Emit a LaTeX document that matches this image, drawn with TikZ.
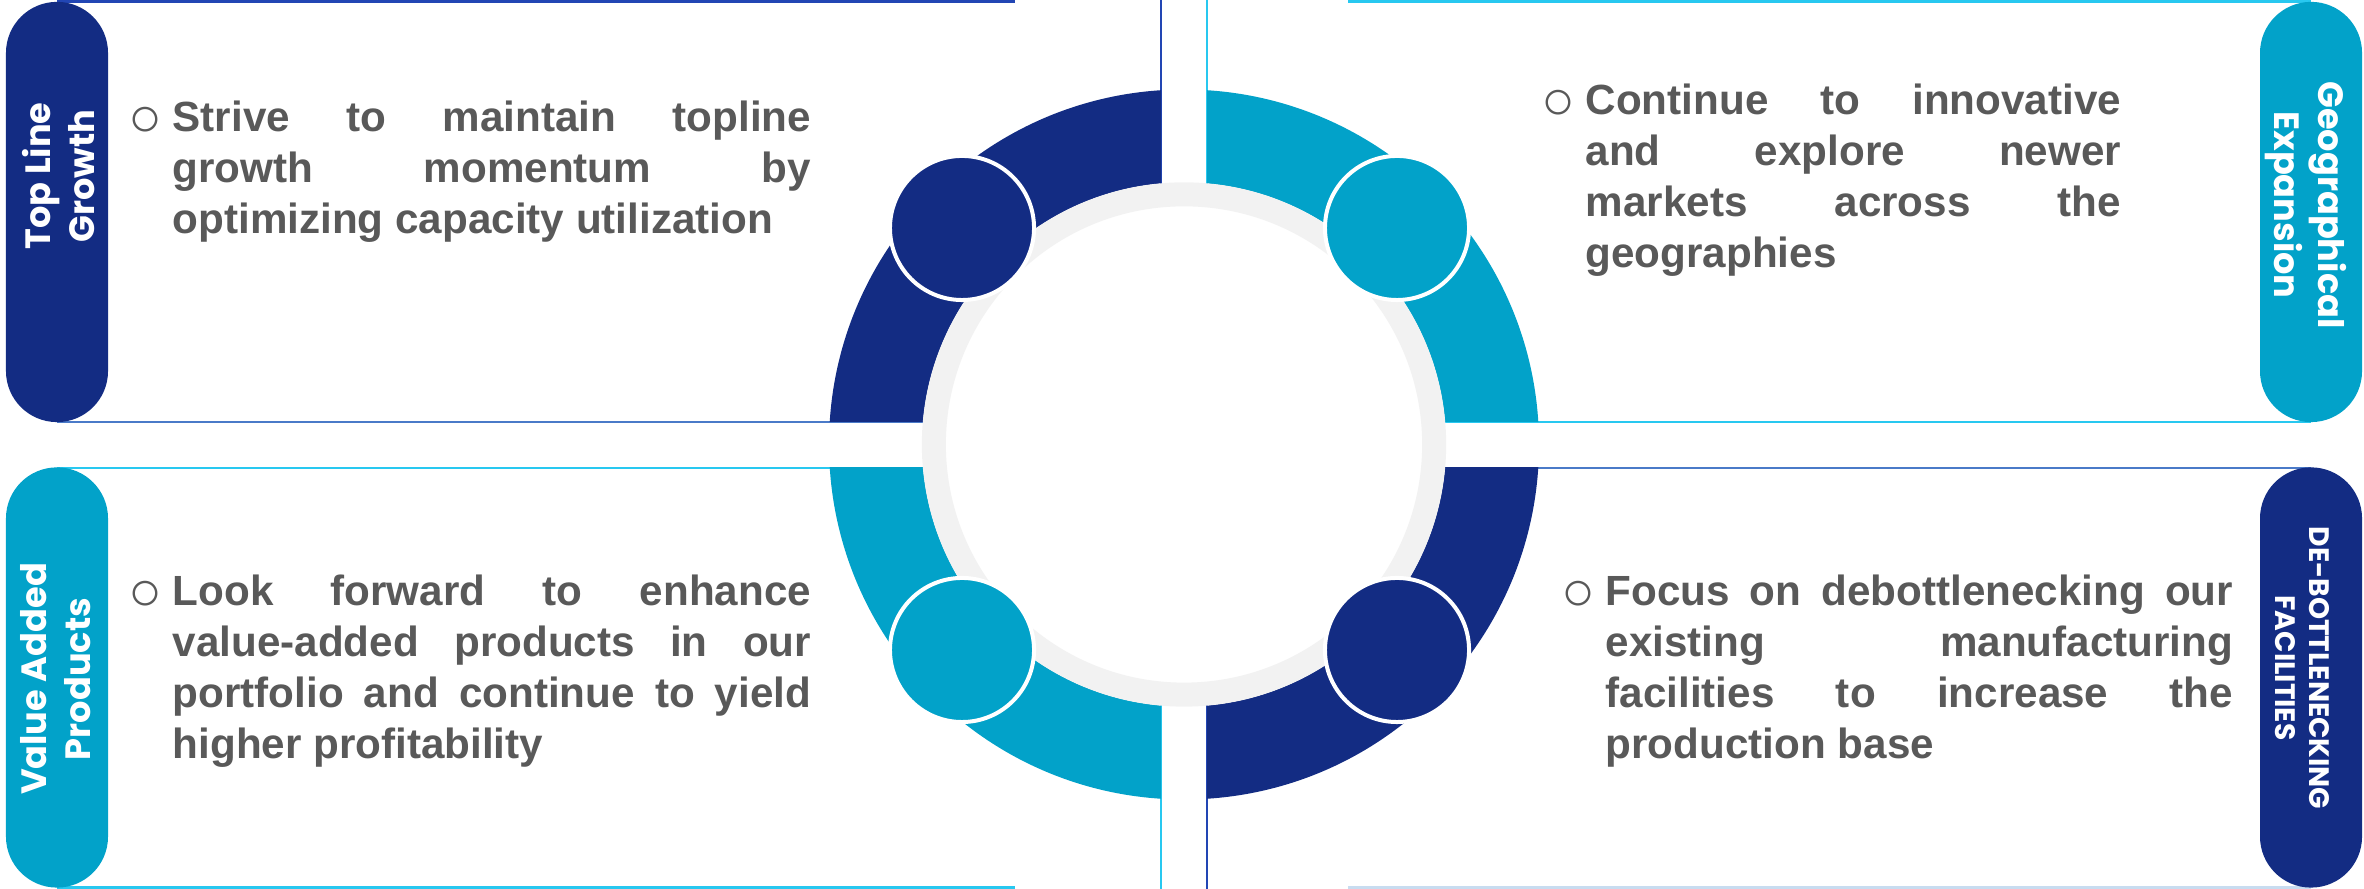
\documentclass[tikz,border=0pt]{standalone}
\usepackage{fontspec}
\setmainfont{Liberation Sans}
\newfontfamily\tabfont{Poppins}
\definecolor{ringnavy}{RGB}{19,44,131}
\definecolor{ringsky}{RGB}{2,162,201}
\definecolor{ringgrey}{RGB}{242,242,242}
\definecolor{bodygrey}{RGB}{89,89,89}
\definecolor{edgedark}{RGB}{34,70,180}
\definecolor{edgemid}{RGB}{74,122,200}
\definecolor{edgecyan}{RGB}{40,200,240}
\definecolor{edgepale}{RGB}{200,220,240}
\newcommand{\pointmark}{\tolerance=10000\relax\noindent\llap{\raisebox{-0.2ex}{\fontsize{16}{16}\mdseries\selectfont ○}\hspace{0.1cm}}}

\begin{document}
\begin{tikzpicture}[x=0.01cm,y=0.01cm,
      tab/.style={minimum width=1.02cm, minimum height=4.2cm, rounded corners=0.51cm, inner sep=0},
      tablabel/.style={text=white, align=center, inner sep=0, font=\tabfont\bfseries\fontsize{10}{12.5}\selectfont},
      body/.style={anchor=base west, inner sep=0, align=justify, text=bodygrey,
         font=\bfseries\fontsize{12}{14.5}\selectfont},
      edge/.style={line width=0.7pt},
      dot/.style={circle, draw=white, line width=0.04cm, minimum size=1.44cm, inner sep=0}]
   \useasboundingbox (0,0) rectangle (2364,889);
   \coordinate (hub) at (1184,444.5);

   % panel outlines
   \draw[edge, edgedark] (57,887.5) -- (1015,887.5);
   \draw[edge, edgedark] (1161,889) -- (1161,467);
   \draw[edge, edgemid] (1161,467) -- (57,467);
   \draw[edge, edgecyan] (1348,887.5) -- (2311,887.5);
   \draw[edge, edgecyan] (1207,889) -- (1207,467) -- (2311,467);
   \draw[edge, edgecyan] (57,421) -- (1161,421) -- (1161,0);
   \draw[edge, edgecyan] (57,1.5) -- (1015,1.5);
   \draw[edge, edgemid] (1207,421) -- (2311,421);
   \draw[edge, edgedark] (1207,421) -- (1207,0);
   \draw[edge, edgepale] (1348,1.5) -- (2311,1.5);

   % ring
   \begin{scope}
      \clip (800,467) rectangle (1161,889);
      \fill[ringnavy, even odd rule] (hub) circle[radius=355] (hub) circle[radius=262];
   \end{scope}
   \begin{scope}
      \clip (1207,467) rectangle (1600,889);
      \fill[ringsky, even odd rule] (hub) circle[radius=355] (hub) circle[radius=262];
   \end{scope}
   \begin{scope}
      \clip (800,0) rectangle (1161,421);
      \fill[ringsky, even odd rule] (hub) circle[radius=355] (hub) circle[radius=262];
   \end{scope}
   \begin{scope}
      \clip (1207,0) rectangle (1600,421);
      \fill[ringnavy, even odd rule] (hub) circle[radius=355] (hub) circle[radius=262];
   \end{scope}
   \node[circle, draw=ringgrey, fill=white, line width=0.24cm, minimum size=5cm, inner sep=0] (core) at (hub) {};

   \node[dot, fill=ringnavy] (tl dot) at (962,661) {};
   \node[dot, fill=ringsky] (tr dot) at (1397,661) {};
   \node[dot, fill=ringsky] (bl dot) at (962,239) {};
   \node[dot, fill=ringnavy] (br dot) at (1397,239) {};

   % side tabs
   \node[tab, fill=ringnavy] (tl tab) at (57,677) {};
   \node[tab, fill=ringsky] (tr tab) at (2311,677) {};
   \node[tab, fill=ringsky] (bl tab) at (57,211.5) {};
   \node[tab, fill=ringnavy] (br tab) at (2311,211.5) {};

   \node[tablabel, rotate=90] (tl label) at (59,713) {Top Line\\Growth};
   \node[tablabel, rotate=-90] (tr label) at (2306,684) {Geographical\\Expansion};
   \node[tablabel, rotate=90] (bl label) at (56,210) {Value Added\\Products};
   \node[tablabel, rotate=-90, font=\tabfont\bfseries\fontsize{8}{9.7}\selectfont] (br label) at (2302,221) {DE-BOTTLENECKING\\FACILITIES};

   % texts
   \node[body, text width=6.38cm] (tl text) at (172,757)
      {\pointmark Strive to maintain topline\linebreak growth momentum by\linebreak optimizing capacity utilization};
   \node[body, text width=5.35cm] (tr text) at (1585,774)
      {\pointmark Continue to innovative\linebreak and explore newer\linebreak markets across the\linebreak geographies};
   \node[body, text width=6.38cm] (bl text) at (172,283)
      {\pointmark Look forward to enhance\linebreak value-added products in our\linebreak portfolio and continue to yield\linebreak higher profitability};
   \node[body, text width=6.27cm] (br text) at (1605,283)
      {\pointmark Focus on debottlenecking our\linebreak existing manufacturing\linebreak facilities to increase the\linebreak production base};
\end{tikzpicture}
\end{document}
